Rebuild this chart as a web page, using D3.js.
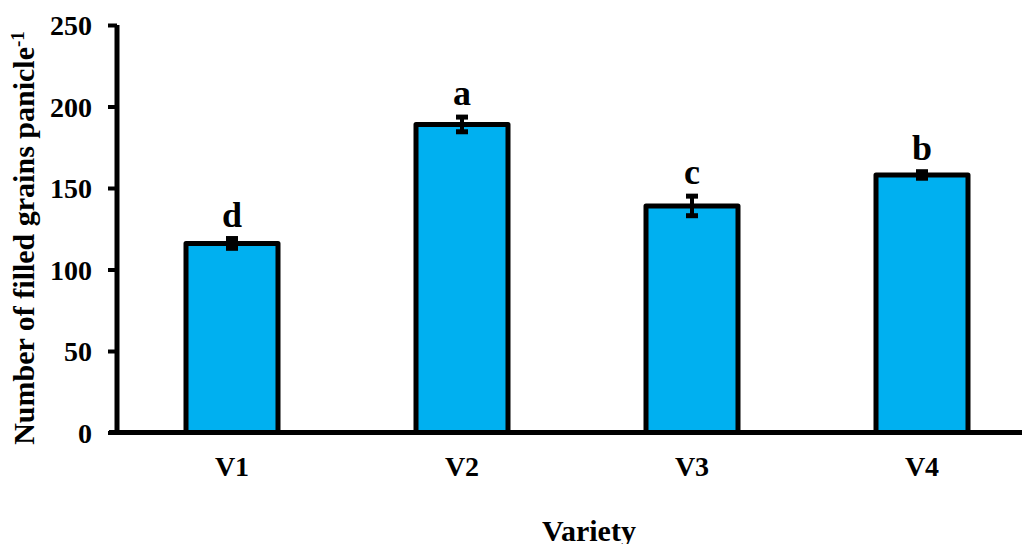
<!DOCTYPE html>
<html>
<head>
<meta charset="utf-8">
<script src="https://cdn.jsdelivr.net/npm/d3@7"></script>
<style>
  html, body { margin: 0; padding: 0; background: #fff; }
  svg { display: block; }
  text { font-family: "Liberation Serif", "Times New Roman", serif; font-weight: bold; fill: #000; }
</style>
</head>
<body>
<svg id="chart" width="1022" height="544"></svg>
<script>
// Filled grains per panicle by variety (mean ± SE) with significance letters
const varieties = ["V1", "V2", "V3", "V4"];
const grains = [116, 189, 139, 158];
const errors = [3, 4.5, 6, 2];
const letters = ["d", "a", "c", "b"];
const yTicks = [0, 50, 100, 150, 200, 250];

const svg = d3.select("#chart");
const plotLeft = 117, plotRight = 1037, plotTop = 25, plotBottom = 432.5;

const x = d3.scaleBand().domain(varieties).range([plotLeft, plotRight]).paddingInner(0.6).paddingOuter(0.3);
const y = d3.scaleLinear().domain([0, 250]).range([plotBottom, plotTop]);

const rows = varieties.map((v, i) => ({ v, val: grains[i], err: errors[i], letter: letters[i] }));

// bars
svg.append("g").selectAll("rect").data(rows).join("rect")
  .attr("x", d => x(d.v))
  .attr("y", d => y(d.val))
  .attr("width", x.bandwidth())
  .attr("height", d => y(0) - y(d.val))
  .attr("fill", "#00B0F0")
  .attr("stroke", "#000")
  .attr("stroke-width", 5)
  .attr("stroke-linejoin", "round");

// error bars
const eb = svg.append("g").attr("stroke", "#000");
rows.forEach(d => {
  const cx = x(d.v) + x.bandwidth() / 2;
  eb.append("line").attr("x1", cx).attr("x2", cx)
    .attr("y1", y(d.val + d.err)).attr("y2", y(d.val - d.err)).attr("stroke-width", 4);
  [d.val + d.err, d.val - d.err].forEach(t => {
    eb.append("line").attr("x1", cx - 6).attr("x2", cx + 6)
      .attr("y1", y(t)).attr("y2", y(t)).attr("stroke-width", 5);
  });
});

// significance letters
svg.append("g").selectAll("text").data(rows).join("text")
  .attr("x", d => x(d.v) + x.bandwidth() / 2)
  .attr("y", d => y(d.val + d.err) - 12)
  .attr("text-anchor", "middle")
  .style("font-size", "36px")
  .text(d => d.letter);

// y axis
const yAxis = svg.append("g").attr("transform", `translate(${plotLeft},0)`)
  .call(d3.axisLeft(y).tickValues(yTicks).tickSize(9).tickPadding(16));
yAxis.select(".domain").attr("stroke-width", 5).attr("d", `M0,${plotTop}V${plotBottom}`);
yAxis.selectAll(".tick line").attr("stroke-width", 4);
yAxis.selectAll(".tick text").style("font-size", "28px").attr("dy", "0.34em")
  .style("font-family", "'Liberation Serif', serif").style("font-weight", "bold");

// x axis
const xAxis = svg.append("g").attr("transform", `translate(0,${plotBottom})`)
  .call(d3.axisBottom(x).tickSize(0).tickPadding(24));
xAxis.select(".domain").attr("stroke-width", 5).attr("d", `M${plotLeft - 8},0H${plotRight}`);
xAxis.selectAll(".tick text").style("font-size", "28px").attr("dy", "0.71em")
  .style("font-family", "'Liberation Serif', serif").style("font-weight", "bold");

// axis titles
svg.append("text").attr("x", 589).attr("y", 541).attr("text-anchor", "middle")
  .style("font-size", "30px").text("Variety");

const yt = svg.append("text")
  .attr("transform", `translate(34,238) rotate(-90)`)
  .attr("text-anchor", "middle")
  .style("font-size", "30px");
yt.append("tspan").text("Number of filled grains panicle");
yt.append("tspan").attr("dy", "-0.55em").style("font-size", "19px").text("-1");
</script>
</body>
</html>
